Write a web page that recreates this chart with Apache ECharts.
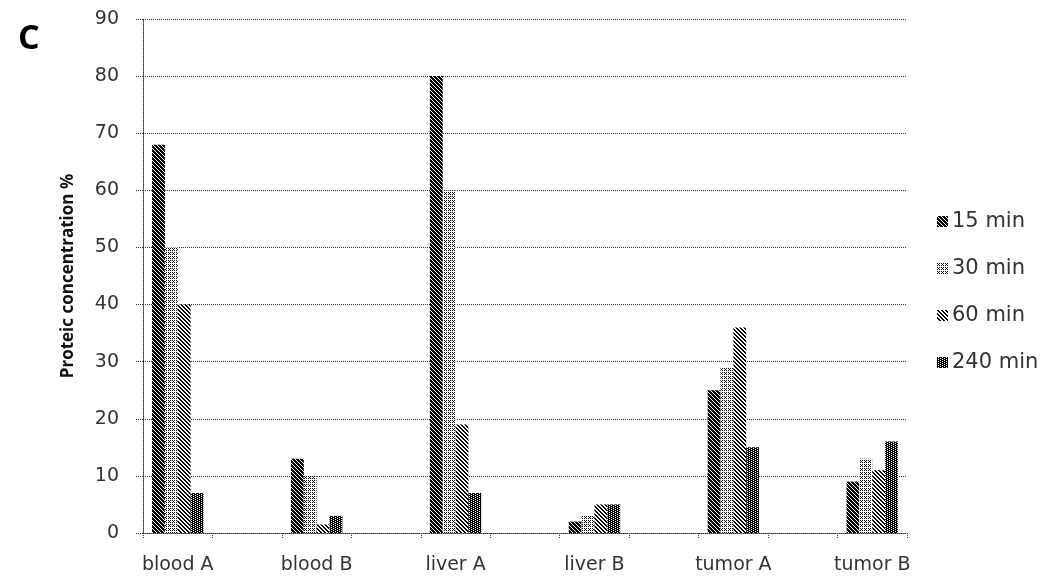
<!DOCTYPE html>
<html>
<head>
<meta charset="utf-8">
<script src="https://cdn.jsdelivr.net/npm/echarts@6/dist/echarts.min.js"></script>
<style>
html,body{margin:0;padding:0;background:#fff;}
#chart{width:1050px;height:588px;}
</style>
</head>
<body>
<div id="chart"></div>
<script>
const categories = ['blood A', 'blood B', 'liver A', 'liver B', 'tumor A', 'tumor B'];
const seriesNames = ['15 min', '30 min', '60 min', '240 min'];
const min15 = [68, 13, 80, 2, 25, 9];
const min30 = [50, 10, 60, 3, 29, 13];
const min60 = [40, 1.5, 19, 5, 36, 11];
const min240 = [7, 3, 7, 5, 15, 16];
const yTicks = [0, 10, 20, 30, 40, 50, 60, 70, 80, 90];

// Excel-style layout: each labelled category followed by an empty slot
function spread(arr, blank) {
  const out = [];
  arr.forEach((v, i) => { out.push(v); if (i < arr.length - 1) out.push(blank); });
  return out;
}
const axisCats = spread(categories, '');

function makePattern(w, h, fn) {
  const c = document.createElement('canvas');
  c.width = w; c.height = h;
  const ctx = c.getContext('2d');
  ctx.fillStyle = '#fff';
  ctx.fillRect(0, 0, w, h);
  ctx.fillStyle = '#000';
  for (let y = 0; y < h; y++) for (let x = 0; x < w; x++) {
    if (fn(x, y)) ctx.fillRect(x, y, 1, 1);
  }
  return { image: c, repeat: 'repeat' };
}
const patterns = [
  makePattern(4, 4, (x, y) => ((x - y + 8) % 4) !== 0),                 // dark diagonal
  makePattern(4, 4, (x, y) => (x === 0 && y === 0) || (x === 2 && y === 2) || (x === 2 && y === 0) || (x === 0 && y === 2) || (x === 1 && y === 1)), // light dots
  makePattern(4, 4, (x, y) => ((x - y + 8) % 4) < 2),                   // diagonal stripes
  makePattern(4, 2, (x, y) => !((x === 1 && y === 0) || (x === 3 && y === 1)))  // dark dotted
];

const values = [min15, min30, min60, min240];
const font = '"DejaVu Sans", Lato, sans-serif';

const chart = echarts.init(document.getElementById('chart'), null, { renderer: 'canvas' });
chart.setOption({
  animation: false,
  backgroundColor: '#fff',
  grid: { left: 143, right: 143, top: 19, bottom: 55, containLabel: false },
  graphic: [{
    type: 'text', left: 18, top: 22,
    style: { text: 'C', font: 'bold 34px "Open Sans", Lato, sans-serif', fill: '#000' }
  }],
  legend: {
    orient: 'vertical', left: 932, top: 206,
    itemWidth: 11, itemHeight: 11, itemGap: 26,
    icon: 'rect',
    data: seriesNames,
    textStyle: { fontFamily: font, fontSize: 21, color: '#333', padding: [0, 0, 0, -1] }
  },
  xAxis: {
    type: 'category',
    data: axisCats,
    axisLine: { lineStyle: { color: '#333', type: 'dotted', width: 1 } },
    axisTick: { show: true, length: 5, lineStyle: { color: '#333', type: 'dotted' } },
    axisLabel: { interval: 0, margin: 23, fontFamily: font, fontSize: 19, color: '#333' },
    splitLine: { show: false }
  },
  yAxis: {
    type: 'value', min: 0, max: 90, interval: 10,
    name: 'Proteic concentration %',
    nameLocation: 'middle', nameGap: 66, nameRotate: 90,
    nameTextStyle: { fontFamily: '"Open Sans", Lato, sans-serif', fontWeight: 'bold', fontSize: 17, color: '#111' },
    axisLine: { show: true, lineStyle: { color: '#333', type: 'dotted', width: 1 } },
    axisTick: { show: true, length: 8, lineStyle: { color: '#333', type: 'dotted' } },
    axisLabel: {
      margin: 24, fontFamily: font, fontSize: 19, color: '#333',
      formatter: v => yTicks.includes(v) ? String(v) : ''
    },
    splitLine: { show: true, lineStyle: { color: '#333', type: 'dotted', width: 1 } }
  },
  series: seriesNames.map((name, i) => ({
    name: name,
    type: 'bar',
    data: spread(values[i], '-'),
    barGap: '0%',
    barCategoryGap: '26%',
    itemStyle: { color: patterns[i] }
  }))
});
</script>
</body>
</html>
